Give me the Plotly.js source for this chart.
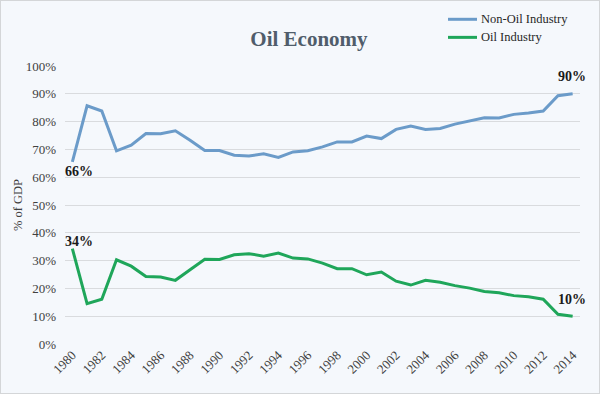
<!DOCTYPE html>
<html>
<head>
<meta charset="utf-8">
<script src="https://cdn.plot.ly/plotly-3.0.1.min.js"></script>
<style>
html,body{margin:0;padding:0;background:#fff;}
#chart{width:600px;height:394px;box-sizing:border-box;border:1px solid #d4d6d8;}
</style>
</head>
<body>
<div id="chart"></div>
<script>
const years = [1980,1981,1982,1983,1984,1985,1986,1987,1988,1989,1990,1991,1992,1993,1994,1995,1996,1997,1998,1999,2000,2001,2002,2003,2004,2005,2006,2007,2008,2009,2010,2011,2012,2013,2014];
const nonOil = [0.655,0.857,0.838,0.695,0.715,0.757,0.756,0.767,0.733,0.696,0.696,0.679,0.676,0.684,0.671,0.691,0.695,0.709,0.727,0.727,0.748,0.739,0.772,0.784,0.772,0.775,0.791,0.802,0.814,0.813,0.826,0.831,0.838,0.893,0.900];
const oil = [0.343,0.145,0.161,0.303,0.280,0.243,0.241,0.229,0.267,0.305,0.304,0.321,0.325,0.316,0.327,0.309,0.306,0.291,0.271,0.271,0.249,0.259,0.226,0.212,0.229,0.222,0.210,0.201,0.189,0.184,0.174,0.170,0.161,0.107,0.100];
const seriesNames = ["Non-Oil Industry","Oil Industry"];
const seriesColors = ["#6b9bc9","#1fa65a"];
const chartTitle = "Oil Economy";
const yTitle = "% of GDP";

const serif = "Liberation Serif";
const n = years.length - 1;

const traces = [
  {x: years, y: nonOil, name: seriesNames[0], type: "scatter", mode: "lines",
   line: {color: seriesColors[0], width: 3}},
  {x: years, y: oil, name: seriesNames[1], type: "scatter", mode: "lines",
   line: {color: seriesColors[1], width: 3}}
];

function pct(v){ return Math.round(v*100) + "%"; }

const annFont = {family: serif, size: 14, color: "#1a1a1a"};
const annotations = [
  {x: years[0], y: nonOil[0], text: "<b>"+pct(nonOil[0])+"</b>", xshift: 7, yshift: -10},
  {x: years[0], y: oil[0], text: "<b>"+pct(oil[0])+"</b>", xshift: 7, yshift: 7},
  {x: years[n], y: nonOil[n], text: "<b>"+pct(nonOil[n])+"</b>", xshift: -1, yshift: 17},
  {x: years[n], y: oil[n], text: "<b>"+pct(oil[n])+"</b>", xshift: -1, yshift: 17}
].map(a => Object.assign({xref: "x", yref: "y", showarrow: false, xanchor: "center", yanchor: "middle", font: annFont}, a));

// custom legend (line samples + labels)
const legY = [1.168, 1.103];
const shapes = [];
seriesNames.forEach((nm, i) => {
  shapes.push({type: "line", xref: "paper", yref: "paper", x0: 0.7437, x1: 0.800, y0: legY[i], y1: legY[i],
               line: {color: seriesColors[i], width: 3}});
  annotations.push({xref: "paper", yref: "paper", x: 0.804, y: legY[i], xanchor: "left", yanchor: "middle",
                    showarrow: false, text: nm, font: {family: serif, size: 12.5, color: "#262626"}});
});

const layout = {
  width: 598, height: 392,
  paper_bgcolor: "#f5f8fc",
  plot_bgcolor: "#f5f8fc",
  margin: {l: 64, r: 19, t: 65, b: 49},
  font: {family: serif, size: 13, color: "#404040"},
  title: {text: "<b>" + chartTitle + "</b>", x: 0.515, xanchor: "center", y: 0.905, yanchor: "middle",
          font: {family: serif, size: 21, color: "#505d6b"}},
  showlegend: false,
  xaxis: {range: [years[0]-0.5, years[n]+0.5], tickmode: "linear", tick0: 1980, dtick: 2,
          tickangle: -45, showgrid: false, zeroline: false, showline: false, ticks: "",
          tickfont: {family: serif, size: 13, color: "#404040"}, fixedrange: true, automargin: false},
  yaxis: {range: [0, 1], dtick: 0.1, tickformat: ".0%", showgrid: true, gridcolor: "#d9dbde", gridwidth: 1,
          zeroline: false, showline: false, ticks: "", ticklabelstandoff: 8, automargin: false,
          tickfont: {family: serif, size: 13, color: "#404040"},
          title: {text: yTitle, standoff: 0, font: {family: serif, size: 12.5, color: "#404040"}}, fixedrange: true},
  shapes: shapes,
  annotations: annotations
};

Plotly.newPlot("chart", traces, layout, {displayModeBar: false, staticPlot: true});
</script>
</body>
</html>
